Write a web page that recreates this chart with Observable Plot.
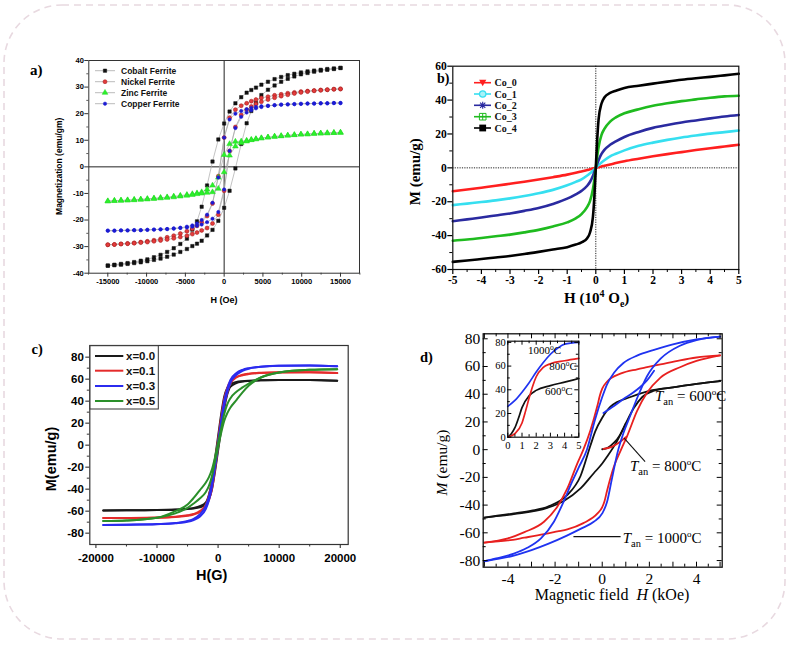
<!DOCTYPE html>
<html><head><meta charset="utf-8">
<script src="https://cdn.jsdelivr.net/npm/d3@7"></script>
<script src="https://cdn.jsdelivr.net/npm/@observablehq/plot@0.6"></script>
<style>
html,body{margin:0;padding:0;background:#fff;}
#root{position:relative;width:790px;height:645px;overflow:hidden;background:#fff;}
</style></head>
<body><div id="root"></div>
<script>
// ================= DATA =================
// Panel a: ferrite hysteresis loops (H in Oe, M in emu/gm)
const aHdown = [15000,14150,13300,12450,11600,10750,9900,9050,8200,7350,6500,5650,4800,4100,3500,2900,2200,1450,700,0,-750,-1500,-2200,-2900,-3500,-4100,-4800,-5650,-6500,-7350,-8200,-9050,-9900,-10750,-11600,-12450,-13300,-14150,-15000];
const aHup = aHdown.slice().reverse();
const aNames = ["Cobalt Ferrite","Nickel Ferrite","Zinc Ferrite","Copper Ferrite"];
const cobaltDown = [37.2,37.0,36.8,36.5,36.2,35.9,35.5,35.0,34.5,33.8,33.0,32.0,30.9,29.8,28.9,27.9,26.2,23.9,20.8,16.3,10.3,2.0,-7.0,-15.0,-20.5,-23.6,-27.0,-29.0,-30.6,-32.0,-33.1,-34.0,-34.8,-35.3,-35.8,-36.2,-36.5,-36.8,-37.1];
const cobaltUp = [-37.2,-37.0,-36.8,-36.5,-36.2,-35.9,-35.5,-35.0,-34.5,-33.8,-33.0,-32.0,-30.9,-29.8,-28.9,-27.8,-25.8,-23.7,-20.3,-15.4,-9.0,-0.6,8.6,16.4,21.0,24.0,27.0,29.0,30.6,32.0,33.1,34.0,34.8,35.3,35.8,36.2,36.5,36.8,37.2];
const nickelDown = [29.3,29.2,29.0,28.9,28.7,28.5,28.3,28.0,27.7,27.3,26.9,26.4,25.9,25.3,24.7,23.9,23.0,21.5,18.5,11.0,-3.5,-13.8,-18.5,-20.8,-22.2,-23.3,-24.2,-25.1,-25.9,-26.5,-27.1,-27.6,-28.0,-28.3,-28.6,-28.8,-29.0,-29.2,-29.3];
const nickelUp = [-29.3,-29.2,-29.0,-28.9,-28.7,-28.5,-28.3,-28.0,-27.7,-27.3,-26.9,-26.4,-25.9,-25.3,-24.7,-23.9,-23.0,-21.3,-18.0,-9.0,6.0,15.0,19.5,21.5,22.7,23.6,24.5,25.3,26.0,26.6,27.1,27.6,28.0,28.3,28.6,28.8,29.0,29.2,29.3];
const zincDown = [12.9,12.8,12.7,12.6,12.5,12.3,12.2,12.0,11.8,11.6,11.4,11.1,10.8,10.5,10.2,9.9,9.6,9.5,8.6,4.5,-4.0,-7.0,-8.5,-9.5,-9.9,-10.2,-10.5,-10.8,-11.1,-11.4,-11.6,-11.8,-12.0,-12.2,-12.3,-12.5,-12.6,-12.7,-12.9];
const zincUp = [-12.9,-12.8,-12.7,-12.6,-12.5,-12.3,-12.2,-12.0,-11.8,-11.6,-11.4,-11.1,-10.8,-10.5,-10.2,-10.0,-9.7,-9.5,-8.2,-2.0,4.3,7.7,9.0,9.6,10.1,10.4,10.8,11.1,11.4,11.6,11.8,12.0,12.2,12.3,12.5,12.6,12.7,12.8,12.9];
const copperDown = [24.0,24.0,23.9,23.9,23.8,23.8,23.7,23.6,23.5,23.4,23.2,23.0,22.8,22.5,22.2,21.7,21.0,20.0,17.8,11.0,-4.0,-13.5,-18.0,-20.0,-21.3,-22.0,-22.5,-22.9,-23.2,-23.4,-23.5,-23.6,-23.7,-23.8,-23.8,-23.9,-23.9,-24.0,-24.0];
const copperUp = [-24.0,-24.0,-23.9,-23.9,-23.8,-23.8,-23.7,-23.6,-23.5,-23.4,-23.2,-23.0,-22.8,-22.5,-22.2,-21.7,-20.8,-19.5,-17.0,-8.5,6.0,14.6,18.8,20.4,21.3,22.0,22.5,22.9,23.2,23.4,23.5,23.6,23.7,23.8,23.8,23.9,23.9,24.0,24.0];
const aXTicks = [-15000,-10000,-5000,0,5000,10000,15000];
const aYTicks = [-40,-30,-20,-10,0,10,20,30,40];

// Panel b: Co_x curves (H in 10^4 Oe, M in emu/g)
const bNames = ["Co_0","Co_1","Co_2","Co_3","Co_4"];
const bH = [-5,-4.5,-4,-3.5,-3,-2.5,-2,-1.5,-1,-0.7,-0.5,-0.3,-0.2,-0.1,-0.05,0,0.05,0.1,0.2,0.3,0.5,0.7,1,1.5,2,2.5,3,3.5,4,4.5,5];
const co0 = [-13.8,-12.8,-11.7,-10.6,-9.4,-8.2,-6.9,-5.5,-4.0,-2.9,-2.1,-1.3,-0.8,-0.4,-0.2,0,0.2,0.4,0.8,1.3,2.0,2.8,3.9,5.4,6.8,8.1,9.3,10.5,11.6,12.6,13.6];
const co1 = [-22.0,-21.1,-20.2,-19.2,-18.0,-16.6,-15.0,-13.0,-10.3,-8.3,-6.8,-4.5,-3.2,-1.7,-0.9,0,0.9,1.7,3.2,4.5,6.8,8.3,10.3,13.0,14.9,16.5,17.9,19.1,20.2,21.1,22.0];
const co2 = [-31.5,-30.4,-29.3,-28.1,-26.9,-25.4,-23.7,-21.3,-18.2,-15.6,-13.6,-10.6,-8.2,-4.6,-2.4,0,2.4,4.6,8.2,10.6,13.6,15.6,18.2,21.2,23.6,25.3,26.8,28.0,29.2,30.3,31.2];
const co3 = [-43.0,-42.3,-41.4,-40.4,-39.4,-38.1,-36.6,-34.6,-32.2,-29.8,-27.3,-23.0,-19.5,-12.5,-7.0,0,7.0,12.5,19.5,23.0,27.3,29.8,32.2,34.6,36.6,38.1,39.4,40.4,41.4,42.2,42.6];
const co4 = [-55.5,-54.7,-53.8,-52.9,-52.0,-50.9,-49.6,-48.2,-46.8,-45.3,-44.0,-41.5,-38.0,-29.0,-17.0,0,17.0,29.0,38.0,41.5,44.2,45.5,47.2,48.5,49.7,50.9,52.0,52.9,53.7,54.6,55.5];
const bXTicks = [-5,-4,-3,-2,-1,0,1,2,3,4,5];
const bYTicks = [-60,-40,-20,0,20,40,60];

// Panel c: x = 0.0 ... 0.5 (H in G, M in emu/g)
const cNames = ["x=0.0","x=0.1","x=0.3","x=0.5"];
const cHdown = [19500,15000,10000,7000,5000,4000,3000,2000,1500,1000,500,0,-500,-1000,-1500,-2000,-3000,-4000,-5000,-7000,-10000,-15000,-18800];
const cHup = [-18800,-15000,-10000,-7000,-5000,-4000,-3000,-2000,-1500,-1000,-500,0,500,1000,1500,2000,3000,4000,5000,7000,10000,15000,19500];
const x00Down = [58.5,59.2,59.2,59.0,58.6,58.2,57.5,55.5,52,44,28,8,-12,-32,-45,-52,-55.5,-57,-57.8,-58.5,-59,-59.2,-59.3];
const x00Up = [-59.3,-59.2,-59,-58.6,-58,-57.5,-56.5,-54,-49,-40,-24,-5,14,33,46,53,56.5,57.8,58.4,58.9,59.2,59.3,58.5];
const x01Down = [65.5,66.2,66.2,65.8,65,64,62,58,52,42,25,5,-14,-33,-46,-54,-60,-62.5,-63.8,-65,-65.8,-66.2,-66.3];
const x01Up = [-66.3,-66.2,-65.9,-65.2,-64.2,-63,-61,-56,-50,-40,-22,-2,17,36,48,56,61.5,63.5,64.6,65.6,66.1,66.3,65.5];
const x03Down = [71.8,72.5,72.2,71.3,70,68.5,65.5,59,51,40,22,3,-16,-34,-47,-55,-63,-67,-69,-70.8,-71.7,-72.3,-72.5];
const x03Up = [-72.5,-72.3,-71.8,-71,-69.7,-68,-65,-58,-50,-38,-20,-1,18,36,48,56.5,64,67.5,69.5,71.2,72.1,72.5,71.8];
const x05Down = [69,68.5,66,61.5,56,52.5,48.5,42.5,37,28,15,2,-11,-22,-29,-34,-41,-48,-54,-60,-66,-68.5,-69];
const x05Up = [-69,-68.5,-66,-62,-57,-53,-48.5,-42.5,-37,-28,-15,-2,11,22,29,34,41,48,54,61.5,66,68.5,69];
const cXTicks = [-20000,-10000,0,10000,20000];
const cYTicks = [-80,-60,-40,-20,0,20,40,60,80];

// Panel d: annealing temperatures (H in kOe, M in emu/g)
const t600DownH = [5,4,3,2,1.2,0.35,0,-0.3,-0.5,-0.92,-1.5,-2.3,-3,-3.75,-5];
const t600DownM = [49.5,47.5,45,42.5,38,31,23,13,3,-19,-33,-41,-44,-46,-49];
const t600UpH = [-5,-3.75,-2.33,-1.63,-0.92,-0.36,0,0.21,0.64,1,1.34,1.7,2.2,3,4,5];
const t600UpM = [-49,-46.5,-42,-37,-28,-17,-10,-5,6.5,19,30,38,42.5,45,47.5,49.5];
const t600VirginH = [0,0.25,0.5,0.75,1.0];
const t600VirginM = [0.3,1.5,5,10.5,19];
const t800DownH = [5,4,3.3,2.47,1.9,1.48,0.8,0.2,0,-0.1,-0.2,-0.5,-0.8,-1.06,-1.48,-1.9,-2.47,-3.3,-4,-5];
const t800DownM = [68,66.5,64.5,61.5,59.5,58,55,49,44,39,32,14,0,-10,-28,-41,-52,-59.5,-64,-67];
const t800UpH = [-5,-4,-3.3,-2.47,-1.9,-1.48,-0.8,-0.2,0,0.1,0.2,0.5,0.8,1.06,1.48,1.9,2.47,3.3,4,5];
const t800UpM = [-67,-65.5,-63.5,-61,-59,-57.5,-53,-46,-41.5,-37,-30,-12,0,10,28,41,52,59.5,64,68];
const t800VirginH = [0.05,0.4,0.7,1.0];
const t800VirginM = [0.5,2,5,9];
const t1000DownH = [5,4,3,2.2,1.5,0.9,0.5,0.2,0,-0.3,-0.65,-1,-1.3,-1.65,-2.05,-2.6,-3.2,-3.75,-4.5,-5];
const t1000DownM = [81.5,79.5,76,72,68,62.5,55.5,47,38,22,0,-13,-24,-38,-52,-64,-71,-75,-78.5,-80.5];
const t1000UpH = [-5,-4.5,-3.75,-3,-2.3,-1.5,-0.9,-0.36,0,0.2,0.4,0.65,0.9,1.2,1.5,1.9,2.5,3.3,4,5];
const t1000UpM = [-80.5,-79,-76.5,-72.5,-68,-62,-57,-52,-46,-38,-22,-2,12,25,38,53,66,75,79,81.5];
const t1000VirginH = [0.05,0.5,0.9,1.3,1.6,1.9,2.2];
const t1000VirginM = [26.5,31.5,36.5,41,45,50,57];
const dXTicks = [-4,-2,0,2,4];
const dYTicks = [-80,-60,-40,-20,0,20,40,60,80];
// inset (virgin curves)
const in1000H = [0,0.5,1,1.5,2,2.5,3,3.5,4,5];
const in1000M = [26,31,38,46,55,63,70,75,78.5,80];
const in800H = [0,0.5,1,1.25,1.5,1.75,2,2.5,3,4,5];
const in800M = [0,3,12,22,33,43,51,59,62,64.5,66.5];
const in600H = [0,0.25,0.5,0.75,1,1.5,2,3,4,5];
const in600M = [0,3,8,16,25,35,39.5,43.5,46.5,49.5];
const inXTicks = [0,1,2,3,4,5];
const inYTicks = [0,20,40,60,80];

// ================= HELPERS =================
const SANS = "'Liberation Sans', Arial, sans-serif";
const SERIF = "'Liberation Serif', 'Times New Roman', serif";
const STYLE = "background:transparent;overflow:visible;max-width:none;position:absolute;";
const root = document.getElementById("root");

function pts(hs, ms) { return hs.map((h, i) => ({H: h, M: ms[i]})); }
function range(a, b, s) { const r = []; for (let v = a; v <= b + 1e-9; v += s) r.push(+v.toFixed(6)); return r; }
function tX(vals, len, frameH, where, sw = 1, stroke = "#000") {
  const o = {x: d => d, stroke, strokeWidth: sw};
  if (where === "bo") { o.insetTop = frameH; o.insetBottom = -len; }
  else if (where === "bi") { o.insetTop = frameH - len; o.insetBottom = 0; }
  else { o.insetTop = 0; o.insetBottom = frameH - len; }
  return Plot.tickX(vals, o);
}
function tY(vals, len, frameW, where, sw = 1, stroke = "#000") {
  const o = {y: d => d, stroke, strokeWidth: sw};
  if (where === "lo") { o.insetLeft = -len; o.insetRight = frameW; }
  else if (where === "li") { o.insetLeft = 0; o.insetRight = frameW - len; }
  else { o.insetLeft = frameW - len; o.insetRight = 0; }
  return Plot.tickY(vals, o);
}
function labX(vals, dy, font, fmt = d => String(d)) {
  return Plot.text(vals, {x: d => d, text: fmt, frameAnchor: "bottom", dy, lineAnchor: "bottom", fill: "#000", ...font});
}
function labY(vals, dx, font, fmt = d => String(d)) {
  return Plot.text(vals, {y: d => d, text: fmt, frameAnchor: "left", dx: -dx, textAnchor: "end", lineAnchor: "middle", fill: "#000", ...font});
}
function mount(svg, left, top) { svg.style.left = left + "px"; svg.style.top = top + "px"; root.appendChild(svg); return svg; }
function scaleFn(plot, k) { const s = plot.scale(k); return s.apply ? (v) => s.apply(v) : d3.scaleLinear(s.domain, s.range); }
function rich(svg, x, y, parts, o) {
  const t = d3.select(svg).append("text")
    .attr("transform", `translate(${x},${y})` + (o.rotate ? ` rotate(${o.rotate})` : ""))
    .attr("font-family", o.family).attr("font-size", o.size).attr("font-weight", o.weight || "normal")
    .attr("text-anchor", o.anchor || "start").attr("fill", "#000").style("white-space", "pre");
  for (const p of parts) {
    const s = t.append("tspan").text(p.t);
    if (p.dy) s.attr("dy", p.dy);
    if (p.s) s.attr("font-size", p.s);
    if (p.i) s.attr("font-style", "italic");
  }
  return t;
}
function legendText(g, x, y, txt, family, size) {
  return g.append("text").attr("x", x).attr("y", y).attr("dy", "0.35em").attr("text-anchor", "start")
    .attr("font-family", family).attr("font-weight", "bold").attr("font-size", size).attr("fill", "#111").text(txt);
}

// ================= BORDER + PANEL LABELS =================
const deco = d3.select(root).append("svg").attr("width", 790).attr("height", 645)
  .style("position", "absolute").style("left", "0px").style("top", "0px");
deco.append("rect").attr("x", 4).attr("y", 5).attr("width", 781).attr("height", 634).attr("rx", 58)
  .attr("fill", "none").attr("stroke", "#e8d9e0").attr("stroke-width", 1.6).attr("stroke-dasharray", "7 5");
[["a)", 30, 75, 15], ["b)", 437, 83, 14], ["c)", 31.5, 354, 14.5], ["d)", 420, 362, 14.5]].forEach(([t, x, y, s]) =>
  deco.append("text").attr("x", x).attr("y", y).attr("font-family", SERIF).attr("font-weight", "bold")
    .attr("font-size", s).text(t));

// ================= PANEL A =================
{
  const W = 345, H = 270, mL = 68.3, mR = 6, mT = 20, mB = 37.3;
  const fW = W - mL - mR, fH = H - mT - mB;
  const series = [
    {name: aNames[0], down: cobaltDown, up: cobaltUp, symbol: "square", r: 1.9, fill: "#111", stroke: "#111"},
    {name: aNames[1], down: nickelDown, up: nickelUp, symbol: "circle", r: 2.0, fill: "#e23c3c", stroke: "#9e1515"},
    {name: aNames[2], down: zincDown, up: zincUp, symbol: "triangle", r: 2.1, fill: "#2cf02c", stroke: "#22d822"},
    {name: aNames[3], down: copperDown, up: copperUp, symbol: "circle", r: 1.7, fill: "#1b1bd2", stroke: "#1b1bd2"}
  ];
  const font = {fontFamily: SANS, fontSize: 7.5, fontWeight: "bold"};
  const marks = [
    Plot.ruleX([0], {stroke: "#222", strokeWidth: 1}),
    Plot.ruleY([0], {stroke: "#222", strokeWidth: 1})
  ];
  for (const s of series) {
    marks.push(Plot.line(pts(aHdown, s.down), {x: "H", y: "M", stroke: "#a9a9a9", strokeWidth: 0.7}));
    marks.push(Plot.line(pts(aHup, s.up), {x: "H", y: "M", stroke: "#a9a9a9", strokeWidth: 0.7}));
  }
  for (const s of series) {
    const data = pts(aHdown, s.down).concat(pts(aHup, s.up));
    marks.push(Plot.dot(data, {x: "H", y: "M", symbol: s.symbol, r: s.r, fill: s.fill, stroke: s.stroke, strokeWidth: 0.5}));
  }
  marks.push(
    Plot.frame({stroke: "#333", strokeWidth: 1}),
    tX(aXTicks, 4, fH, "bo", 1, "#333"), tX(range(-17500, 17500, 2500).filter(v => v % 5000 !== 0), 2, fH, "bo", 0.8, "#333"),
    tY(aYTicks, 4, fW, "lo", 1, "#333"), tY(range(-35, 35, 10), 2, fW, "lo", 0.8, "#333"),
    labX(aXTicks, 10.5, font), labY(aYTicks, 5, font)
  );
  const p = Plot.plot({width: W, height: H, marginLeft: mL, marginRight: mR, marginTop: mT, marginBottom: mB,
    x: {domain: [-17450, 17450], axis: null}, y: {domain: [-40, 40], axis: null}, style: STYLE, marks});
  mount(p, 20, 40);
  rich(p, 204, 263, [{t: "H (Oe)"}], {family: SANS, size: 9, weight: "bold", anchor: "middle"});
  rich(p, 42, 126.3, [{t: "Magnetization (emu/gm)"}], {family: SANS, size: 8.5, weight: "bold", anchor: "middle", rotate: -90});
  // legend
  const g = d3.select(p).append("g");
  const rows = [30.7, 41.7, 52.7, 63.7];
  const symType = {square: d3.symbolSquare, circle: d3.symbolCircle, triangle: d3.symbolTriangle};
  series.forEach((s, i) => {
    const y = rows[i];
    g.append("line").attr("x1", 75).attr("x2", 95).attr("y1", y).attr("y2", y).attr("stroke", "#a9a9a9").attr("stroke-width", 0.8);
    g.append("path").attr("d", d3.symbol(symType[s.symbol], Math.PI * s.r * s.r)()).attr("transform", `translate(85,${y})`)
      .attr("fill", s.fill).attr("stroke", s.stroke).attr("stroke-width", 0.5);
    legendText(g, 101, y, s.name, SANS, 8.5);
  });
}

// ================= PANEL B =================
{
  const W = 345, H = 260, mL = 52.3, mR = 6.7, mT = 15.7, mB = 41;
  const fW = W - mL - mR, fH = H - mT - mB;
  const series = [
    {name: bNames[0], m: co0, color: "#ff1f1f"},
    {name: bNames[1], m: co1, color: "#36dff0"},
    {name: bNames[2], m: co2, color: "#2a2aa0"},
    {name: bNames[3], m: co3, color: "#1fbb1f"},
    {name: bNames[4], m: co4, color: "#000000"}
  ];
  const font = {fontFamily: SERIF, fontSize: 11.5, fontWeight: "bold"};
  const marks = [
    Plot.ruleX([0], {stroke: "#222", strokeWidth: 1, strokeDasharray: "1.2 1.2"}),
    Plot.ruleY([0], {stroke: "#222", strokeWidth: 1, strokeDasharray: "1.2 1.2"})
  ];
  for (const s of series) marks.push(Plot.line(pts(bH, s.m), {x: "H", y: "M", stroke: s.color, strokeWidth: 2.6, curve: "monotone-x"}));
  marks.push(
    Plot.frame({stroke: "#111", strokeWidth: 1.2}),
    tX(bXTicks, 5, fH, "bo", 1.2), tX(range(-4.5, 4.5, 1), 3, fH, "bo", 1),
    tY(bYTicks, 5, fW, "lo", 1.2), tY(range(-50, 50, 20), 3, fW, "lo", 1),
    labX(bXTicks, 14.5, font), labY(bYTicks, 6, font)
  );
  const p = Plot.plot({width: W, height: H, marginLeft: mL, marginRight: mR, marginTop: mT, marginBottom: mB,
    x: {domain: [-5, 5], axis: null}, y: {domain: [-60, 60], axis: null}, style: STYLE, marks});
  mount(p, 400, 50);
  rich(p, 196.7, 253, [{t: "H (10"}, {t: "4", dy: -6, s: 10}, {t: " O", dy: 6}, {t: "e", dy: 4, s: 10}, {t: ")", dy: -4}],
    {family: SERIF, size: 15, weight: "bold", anchor: "middle"});
  rich(p, 19.5, 121.7, [{t: "M (emu/g)"}], {family: SERIF, size: 15, weight: "bold", anchor: "middle", rotate: -90});
  // legend
  const g = d3.select(p).append("g");
  const rows = [32.7, 44, 55.3, 66.7, 78];
  const shapes = [
    (gg, c) => gg.append("path").attr("d", "M-3.6,-3 L3.6,-3 L0,3.6 Z").attr("fill", c),
    (gg, c) => gg.append("circle").attr("r", 3.2).attr("fill", "#a8f2f8").attr("stroke", c).attr("stroke-width", 1.2),
    (gg, c) => gg.append("path").attr("d", "M-3.5,0 L3.5,0 M0,-3.5 L0,3.5 M-2.6,-2.6 L2.6,2.6 M-2.6,2.6 L2.6,-2.6").attr("stroke", c).attr("stroke-width", 1.1).attr("fill", "none"),
    (gg, c) => gg.append("path").attr("d", "M-3.3,-3.3 H3.3 V3.3 H-3.3 Z M-3.3,0 H3.3 M0,-3.3 V3.3").attr("stroke", c).attr("stroke-width", 1).attr("fill", "none"),
    (gg, c) => gg.append("rect").attr("x", -3.4).attr("y", -3.4).attr("width", 6.8).attr("height", 6.8).attr("fill", c)
  ];
  series.forEach((s, i) => {
    const y = rows[i];
    g.append("line").attr("x1", 74).attr("x2", 91).attr("y1", y).attr("y2", y).attr("stroke", s.color).attr("stroke-width", 1.6);
    shapes[i](g.append("g").attr("transform", `translate(82.7,${y})`), s.color);
    legendText(g, 94.5, y, s.name, SERIF, 10);
  });
}

// ================= PANEL C =================
{
  const W = 340, H = 260, mL = 69.3, mR = 12.3, mT = 15, mB = 46;
  const fW = W - mL - mR, fH = H - mT - mB;
  const series = [
    {name: cNames[0], down: x00Down, up: x00Up, color: "#1a1a1a"},
    {name: cNames[1], down: x01Down, up: x01Up, color: "#e42b2b"},
    {name: cNames[2], down: x03Down, up: x03Up, color: "#2b2bef"},
    {name: cNames[3], down: x05Down, up: x05Up, color: "#2a8f2a"}
  ];
  const font = {fontFamily: SANS, fontSize: 11.5, fontWeight: "bold"};
  const marks = [];
  for (const s of series) {
    marks.push(Plot.line(pts(cHdown, s.down).sort((a, b) => a.H - b.H), {x: "H", y: "M", stroke: s.color, strokeWidth: 2, curve: "monotone-x"}));
    marks.push(Plot.line(pts(cHup, s.up), {x: "H", y: "M", stroke: s.color, strokeWidth: 2, curve: "monotone-x"}));
  }
  marks.push(
    Plot.frame({stroke: "#333", strokeWidth: 1.2}),
    tX(cXTicks, 4, fH, "bo", 1.1, "#333"), tX(range(-15000, 15000, 10000), 2.5, fH, "bo", 1, "#333"),
    tY(cYTicks, 4, fW, "lo", 1.1, "#333"), tY(range(-70, 70, 20), 2.5, fW, "lo", 1, "#333"),
    labX(cXTicks, 17.5, font), labY(cYTicks, 6, font)
  );
  const p = Plot.plot({width: W, height: H, marginLeft: mL, marginRight: mR, marginTop: mT, marginBottom: mB,
    x: {domain: [-21000, 21300], axis: null}, y: {domain: [-90.3, 90.6], axis: null}, style: STYLE, marks});
  mount(p, 20, 330);
  rich(p, 191.7, 249.5, [{t: "H(G)"}], {family: SANS, size: 14.5, weight: "bold", anchor: "middle"});
  rich(p, 36, 129, [{t: "M(emu/g)"}], {family: SANS, size: 14.5, weight: "bold", anchor: "middle", rotate: -90});
  const g = d3.select(p).append("g");
  g.append("rect").attr("x", 70).attr("y", 15.7).attr("width", 68.3).attr("height", 63.3).attr("fill", "#fff").attr("stroke", "#333").attr("stroke-width", 1);
  const rows = [26, 40.7, 56, 71];
  series.forEach((s, i) => {
    const y = rows[i];
    g.append("line").attr("x1", 75).attr("x2", 103.3).attr("y1", y).attr("y2", y).attr("stroke", s.color).attr("stroke-width", 2);
    legendText(g, 106, y, s.name, SANS, 11.5);
  });
}

// ================= PANEL D =================
{
  const W = 330, H = 290, mL = 82.7, mR = 8.3, mT = 13.3, mB = 43.3;
  const fW = W - mL - mR, fH = H - mT - mB;
  const curves = [
    {h: t600DownH, m: t600DownM, c: "#111"}, {h: t600UpH, m: t600UpM, c: "#111"}, {h: t600VirginH, m: t600VirginM, c: "#111"},
    {h: t800DownH, m: t800DownM, c: "#e8201f"}, {h: t800UpH, m: t800UpM, c: "#e8201f"}, {h: t800VirginH, m: t800VirginM, c: "#e8201f"},
    {h: t1000DownH, m: t1000DownM, c: "#1f33f0"}, {h: t1000UpH, m: t1000UpM, c: "#1f33f0"}, {h: t1000VirginH, m: t1000VirginM, c: "#1f33f0"}
  ];
  const font = {fontFamily: SERIF, fontSize: 15.5};
  const marks = curves.map(c => Plot.line(pts(c.h, c.m).sort((a, b) => a.H - b.H), {x: "H", y: "M", stroke: c.c, strokeWidth: 1.8, curve: "monotone-x"}));
  const xMajor = range(-5, 5, 1), xMinor = range(-4.5, 4.5, 1);
  const yMajor = range(-80, 80, 20), yMinor = range(-70, 70, 20);
  marks.push(
    Plot.frame({stroke: "#111", strokeWidth: 1.3}),
    tX(xMajor, 5, fH, "bi"), tX(xMinor, 3, fH, "bi"), tX(xMajor, 5, fH, "ti"), tX(xMinor, 3, fH, "ti"),
    tY(yMajor, 5, fW, "li"), tY(yMinor, 3, fW, "li"), tY(yMajor, 5, fW, "ri"), tY(yMinor, 3, fW, "ri"),
    labX(dXTicks, 16.5, font), labY(dYTicks, 3, font)
  );
  const p = Plot.plot({width: W, height: H, marginLeft: mL, marginRight: mR, marginTop: mT, marginBottom: mB,
    x: {domain: [-5.05, 5.09], axis: null}, y: {domain: [-84.8, 83.6], axis: null}, style: STYLE, marks});
  mount(p, 400, 320);
  const sx = scaleFn(p, "x"), sy = scaleFn(p, "y");
  rich(p, 212, 280, [{t: "Magnetic field  "}, {t: "H", i: true}, {t: " (kOe)"}], {family: SERIF, size: 16, anchor: "middle"});
  rich(p, 47, 142.5, [{t: "M", i: true}, {t: " (emu/g)"}], {family: SERIF, size: 15.5, anchor: "middle", rotate: -90});
  const tan = (temp) => [{t: "T", i: true}, {t: "an", dy: 4, s: 10.5}, {t: " = " + temp, dy: -4}, {t: "o", dy: -6, s: 9}, {t: "C", dy: 6}];
  const annos = [{h: 2.26, m: 34.4, temp: "600"}, {h: 1.2, m: -15.7, temp: "800"}, {h: 0.89, m: -67.4, temp: "1000"}];
  annos.forEach(a => rich(p, sx(a.h), sy(a.m), tan(a.temp), {family: SERIF, size: 15}));
  const leaders = [[[0.95, 7.9], [1.84, -9]], [[-1.2, -63.1], [0.8, -63.1]]];
  leaders.forEach(([a, b]) => d3.select(p).append("line").attr("x1", sx(a[0])).attr("y1", sy(a[1])).attr("x2", sx(b[0])).attr("y2", sy(b[1]))
    .attr("stroke", "#111").attr("stroke-width", 1.1));
}

// ================= PANEL D INSET =================
{
  const W = 95, H = 120, mL = 17.3, mR = 6.7, mT = 5.7, mB = 18.3;
  const fW = W - mL - mR, fH = H - mT - mB;
  const curves = [
    {h: in600H, m: in600M, c: "#111"},
    {h: in800H, m: in800M, c: "#e8201f"},
    {h: in1000H, m: in1000M, c: "#1f33f0"}
  ];
  const font = {fontFamily: SERIF, fontSize: 10.5};
  const marks = [Plot.frame({fill: "#fff", stroke: "none"})];
  curves.forEach(c => marks.push(Plot.line(pts(c.h, c.m), {x: "H", y: "M", stroke: c.c, strokeWidth: 1.7, curve: "monotone-x"})));
  const xMajor = range(0, 5, 1), xMinor = range(0.5, 4.5, 1);
  const yMajor = range(0, 80, 20), yMinor = range(10, 70, 20);
  marks.push(
    Plot.frame({stroke: "#111", strokeWidth: 1.2}),
    tX(xMajor, 4, fH, "bi"), tX(xMinor, 2.5, fH, "bi"), tX(xMajor, 4, fH, "ti"), tX(xMinor, 2.5, fH, "ti"),
    tY(yMajor, 4, fW, "li"), tY(yMinor, 2.5, fW, "li"), tY(yMajor, 4, fW, "ri"), tY(yMinor, 2.5, fW, "ri"),
    labX(inXTicks, 11.5, font), labY(inYTicks, 2, font)
  );
  const p = Plot.plot({width: W, height: H, marginLeft: mL, marginRight: mR, marginTop: mT, marginBottom: mB,
    x: {domain: [0, 5], axis: null}, y: {domain: [0, 81], axis: null}, style: STYLE, marks});
  mount(p, 490, 335);
  const sx = scaleFn(p, "x"), sy = scaleFn(p, "y");
  const deg = (temp) => [{t: temp}, {t: "o", dy: -4, s: 7.5}, {t: "C", dy: 4}];
  [{h: 1.46, m: 69.4, temp: "1000"}, {h: 2.96, m: 56.2, temp: "800"}, {h: 2.65, m: 35.1, temp: "600"}]
    .forEach(a => rich(p, sx(a.h), sy(a.m), deg(a.temp), {family: SERIF, size: 11}));
}
</script></body></html>
